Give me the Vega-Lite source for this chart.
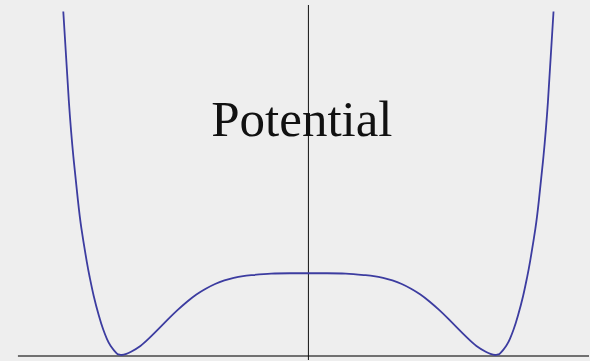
{
  "$schema": "https://vega.github.io/schema/vega-lite/v6.json",
  "width": 590,
  "height": 361,
  "autosize": {"type": "fit", "contains": "padding"},
  "padding": 0,
  "background": "#eeeeee",
  "config": {"view": {"stroke": null}},
  "datasets": {
    "potential": [
      {"x": -1.313, "V": 4.201},
      {"x": -1.283, "V": 3.096},
      {"x": -1.259, "V": 2.427},
      {"x": -1.235, "V": 1.900},
      {"x": -1.216, "V": 1.548},
      {"x": -1.187, "V": 1.140},
      {"x": -1.171, "V": 0.946},
      {"x": -1.150, "V": 0.722},
      {"x": -1.123, "V": 0.487},
      {"x": -1.099, "V": 0.311},
      {"x": -1.080, "V": 0.201},
      {"x": -1.059, "V": 0.110},
      {"x": -1.027, "V": 0.0195},
      {"x": -1.016, "V": 0.0067},
      {"x": -1.000, "V": 0.000},
      {"x": -0.975, "V": 0.013},
      {"x": -0.950, "V": 0.040},
      {"x": -0.900, "V": 0.111},
      {"x": -0.850, "V": 0.212},
      {"x": -0.800, "V": 0.326},
      {"x": -0.750, "V": 0.441},
      {"x": -0.700, "V": 0.551},
      {"x": -0.650, "V": 0.651},
      {"x": -0.600, "V": 0.739},
      {"x": -0.550, "V": 0.810},
      {"x": -0.500, "V": 0.868},
      {"x": -0.450, "V": 0.912},
      {"x": -0.400, "V": 0.944},
      {"x": -0.350, "V": 0.965},
      {"x": -0.300, "V": 0.977},
      {"x": -0.200, "V": 0.995},
      {"x": -0.100, "V": 0.9998},
      {"x": 0.000, "V": 1.000},
      {"x": 0.100, "V": 0.9998},
      {"x": 0.200, "V": 0.995},
      {"x": 0.300, "V": 0.977},
      {"x": 0.350, "V": 0.965},
      {"x": 0.400, "V": 0.944},
      {"x": 0.450, "V": 0.912},
      {"x": 0.500, "V": 0.868},
      {"x": 0.550, "V": 0.810},
      {"x": 0.600, "V": 0.739},
      {"x": 0.650, "V": 0.651},
      {"x": 0.700, "V": 0.551},
      {"x": 0.750, "V": 0.441},
      {"x": 0.800, "V": 0.326},
      {"x": 0.850, "V": 0.212},
      {"x": 0.900, "V": 0.111},
      {"x": 0.950, "V": 0.040},
      {"x": 0.975, "V": 0.013},
      {"x": 1.000, "V": 0.000},
      {"x": 1.016, "V": 0.0067},
      {"x": 1.027, "V": 0.0195},
      {"x": 1.059, "V": 0.110},
      {"x": 1.080, "V": 0.201},
      {"x": 1.099, "V": 0.311},
      {"x": 1.123, "V": 0.487},
      {"x": 1.150, "V": 0.722},
      {"x": 1.171, "V": 0.946},
      {"x": 1.187, "V": 1.140},
      {"x": 1.216, "V": 1.548},
      {"x": 1.235, "V": 1.900},
      {"x": 1.259, "V": 2.427},
      {"x": 1.283, "V": 3.096},
      {"x": 1.313, "V": 4.201}
    ]
  },
  "layer": [
    {
      "description": "horizontal axis",
      "data": {"values": [{"x1": -1.556, "x2": 1.503, "V": -0.012}]},
      "mark": {"type": "rule", "color": "#707070", "strokeWidth": 2},
      "encoding": {
        "x": {"field": "x1", "type": "quantitative", "scale": {"domain": [-1.652, 1.503], "nice": false, "zero": false}, "axis": null},
        "x2": {"field": "x2"},
        "y": {"field": "V", "type": "quantitative", "scale": {"domain": [-0.061, 4.341], "nice": false, "zero": false}, "axis": null}
      }
    },
    {
      "description": "vertical axis",
      "data": {"values": [{"x": 0, "V1": -0.061, "V2": 4.28}]},
      "mark": {"type": "rule", "color": "#111111", "strokeWidth": 1},
      "encoding": {
        "x": {"field": "x", "type": "quantitative"},
        "y": {"field": "V1", "type": "quantitative"},
        "y2": {"field": "V2"}
      }
    },
    {
      "description": "double-well potential curve",
      "data": {"name": "potential"},
      "mark": {"type": "line", "color": "#3c3ca0", "strokeWidth": 1.8, "interpolate": "natural"},
      "encoding": {
        "x": {"field": "x", "type": "quantitative"},
        "y": {"field": "V", "type": "quantitative"}
      }
    },
    {
      "data": {"values": [{"label": "Potential", "x": -0.035, "V": 2.674}]},
      "mark": {"type": "text", "font": "Liberation Serif", "fontSize": 51, "color": "#111111", "align": "center", "baseline": "alphabetic"},
      "encoding": {
        "x": {"field": "x", "type": "quantitative"},
        "y": {"field": "V", "type": "quantitative"},
        "text": {"field": "label"}
      }
    }
  ]
}
